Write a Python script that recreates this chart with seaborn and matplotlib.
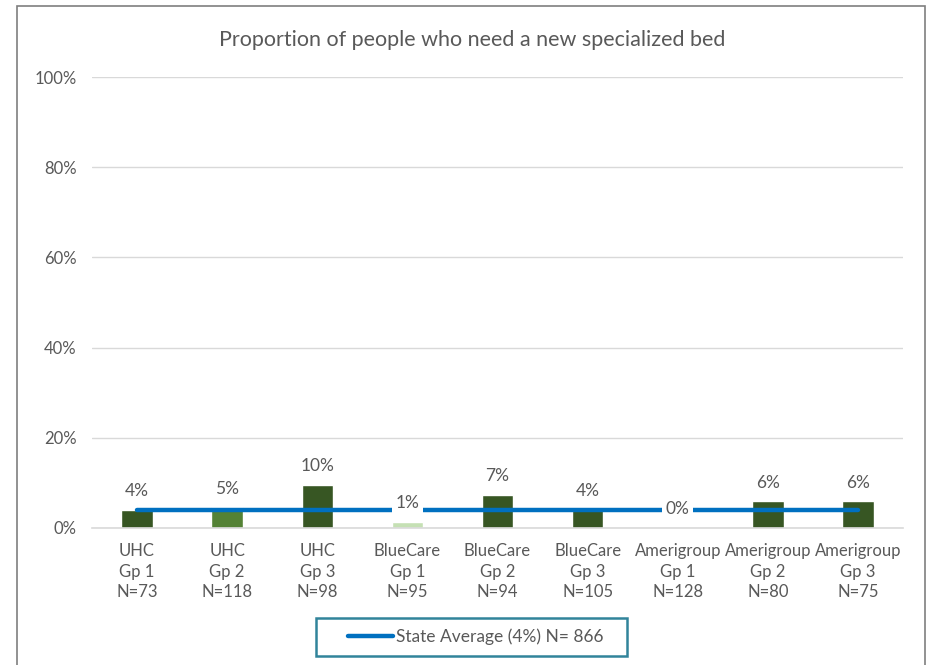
import numpy as np
import pandas as pd
import seaborn as sns
import matplotlib.pyplot as plt
from matplotlib.patches import Rectangle
from matplotlib.ticker import FuncFormatter

sns.set_theme(style="white")
plt.rcParams["font.family"] = ["Lato", "DejaVu Sans"]

# 数据
groups = ["UHC\nGp 1", "UHC\nGp 2", "UHC\nGp 3",
          "BlueCare\nGp 1", "BlueCare\nGp 2", "BlueCare\nGp 3",
          "Amerigroup\nGp 1", "Amerigroup\nGp 2", "Amerigroup\nGp 3"]
n_sizes = [73, 118, 98, 95, 94, 105, 128, 80, 75]
pct = [4.1, 4.6, 9.6, 1.3, 7.3, 4.1, 0.0, 5.9, 5.9]
state_avg = 4.0
state_n = 866
bar_colors = ["#375623", "#548235", "#375623", "#C5E0B4", "#375623",
              "#375623", "#375623", "#375623", "#375623"]

labels = [f"{g}\nN={n}" for g, n in zip(groups, n_sizes)]
df = pd.DataFrame({"group": labels, "pct": pct})

txt = "#595959"
fig = plt.figure(figsize=(9.34, 6.65), dpi=100)
ax = fig.add_axes([92 / 934, 1 - 528 / 665, 811 / 934, 451 / 665])

sns.barplot(data=df, x="group", y="pct", hue="group", palette=bar_colors,
            legend=False, width=0.35, saturation=1, ax=ax, zorder=2)
sns.lineplot(x=np.arange(len(labels)), y=[state_avg] * len(labels),
             color="#0070C0", linewidth=3.2, ax=ax, zorder=3,
             label=f"State Average ({state_avg:.0f}%) N= {state_n}")
ax.lines[-1].set_solid_capstyle("round")

# 数据标签
for i, v in enumerate(pct):
    ax.annotate(f"{v:.0f}%", (i, v), xytext=(0, 13.5), textcoords="offset points",
                ha="center", va="center", fontsize=12.5, color=txt, zorder=5,
                bbox=dict(boxstyle="square,pad=0.2", fc="white", ec="none"))

ax.set_ylim(0, 100)
ax.set_xlim(-0.5, len(labels) - 0.5)
ax.set_yticks(range(0, 101, 20))
ax.yaxis.set_major_formatter(FuncFormatter(lambda v, p: f"{v:.0f}%"))
ax.grid(axis="y", color="#D9D9D9", linewidth=1, zorder=0)
ax.set_axisbelow(True)
for s in ["top", "right", "left"]:
    ax.spines[s].set_visible(False)
ax.spines["bottom"].set_color("#D9D9D9")
ax.spines["bottom"].set_linewidth(1.2)
ax.tick_params(axis="both", length=0, colors=txt, labelsize=12)
ax.tick_params(axis="y", pad=11)
ax.tick_params(axis="x", pad=11)
for t in ax.get_xticklabels():
    t.set_linespacing(1.33)
ax.set_xlabel("")
ax.set_ylabel("")

fig.text(472 / 934, 1 - 40 / 665, "Proportion of people who need a new specialized bed",
         ha="center", va="center", fontsize=15.5, color=txt)

# 图例
ax.get_legend().remove()
h, l = ax.get_legend_handles_labels()
leg = fig.legend(h, l, loc="center left", bbox_to_anchor=(348 / 934, 1 - 637 / 665),
                 frameon=False, fontsize=12.5, handlelength=2.6,
                 handletextpad=0.15, borderpad=0, borderaxespad=0)
for t in leg.get_texts():
    t.set_color(txt)
fig.patches.append(Rectangle((316 / 934, 1 - 656 / 665), 311 / 934, 38 / 665,
                             transform=fig.transFigure, fill=False,
                             edgecolor="#31849B", linewidth=1.8))

# 外框
fig.patches.append(Rectangle((17 / 934, -0.05), 908 / 934, 1.05 - 6 / 665,
                             transform=fig.transFigure, fill=False,
                             edgecolor="#7F7F7F", linewidth=1.2))

fig.savefig("out.png", dpi=100)
